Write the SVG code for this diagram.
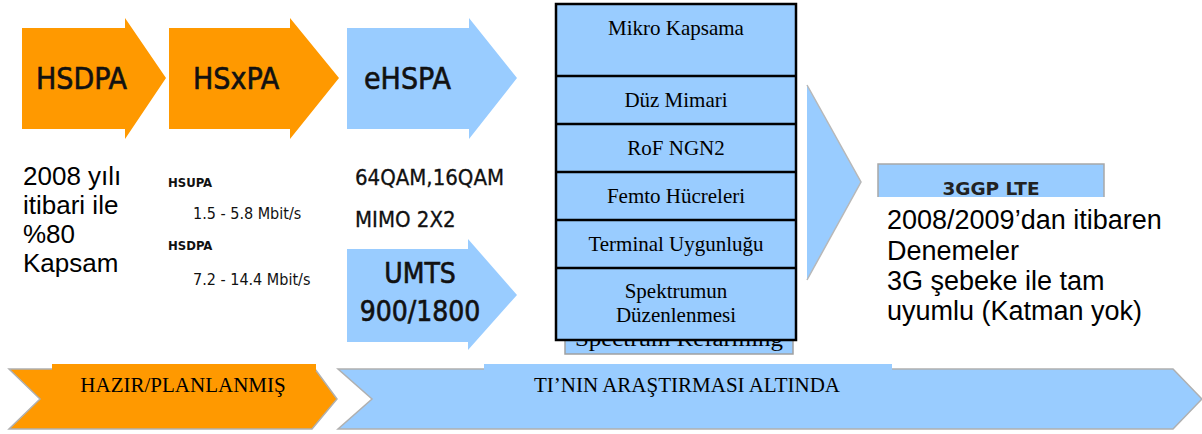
<svg xmlns="http://www.w3.org/2000/svg" width="1202" height="434" viewBox="0 0 1202 434">
<style>
.or{fill:#FF9900}
.bl{fill:#99CCFF}
.lbl{font-family:"DejaVu Sans Condensed","DejaVu Sans",sans-serif;fill:#111}
.big{stroke:#111;stroke-width:0.6}
.ar{font-family:"Liberation Sans",Arial,sans-serif;fill:#000}
.tm{font-family:"Liberation Serif","Times New Roman",serif;fill:#000}
.chev{stroke:#b0b0b0;stroke-width:1.5}
</style>
<defs>
<clipPath id="belowBox"><rect x="560" y="341" width="240" height="20"/></clipPath>
</defs>
<rect width="1202" height="434" fill="#fff"/>

<g id="hsdpa-arrow">
<polygon class="or" points="22,28 125,28 125,18 166,78 125,139 125,129 22,129"/>
<text class="lbl big" x="36" y="89" font-size="30">HSDPA</text>
</g>
<g id="hsxpa-arrow">
<polygon class="or" points="169,28 290,28 290,18 339,78 290,139 290,129 169,129"/>
<text class="lbl big" x="193" y="89" font-size="30">HSxPA</text>
</g>
<g id="ehspa-arrow">
<polygon class="bl" points="347,28 469,28 469,18 517,78 469,139 469,129 347,129"/>
<text class="lbl big" x="364" y="89" font-size="30">eHSPA</text>
</g>
<g id="umts-arrow">
<polygon class="bl" points="347,249 468,249 468,239 517,295 468,350 468,342 347,342"/>
<text class="lbl big" x="420" y="283" font-size="28" text-anchor="middle">UMTS</text>
<text class="lbl big" x="420" y="321" font-size="28" text-anchor="middle">900/1800</text>
</g>

<g id="coverage-text">
<text class="ar" font-size="26"><tspan x="23" y="185">2008 yılı</tspan><tspan x="23" y="214">itibari ile</tspan><tspan x="23" y="243">%80</tspan><tspan x="23" y="272">Kapsam</tspan></text>
</g>
<g id="hsxpa-rates">
<text class="lbl" x="168" y="187" font-size="13" font-weight="bold">HSUPA</text>
<text class="lbl" x="193" y="219" font-size="16">1.5 - 5.8 Mbit/s</text>
<text class="lbl" x="168" y="250" font-size="13" font-weight="bold">HSDPA</text>
<text class="lbl" x="193" y="285" font-size="16">7.2 - 14.4 Mbit/s</text>
</g>
<g id="ehspa-features">
<text class="lbl" x="355" y="185" font-size="22" stroke="#111" stroke-width="0.3">64QAM,16QAM</text>
<text class="lbl" x="355" y="227" font-size="22" stroke="#111" stroke-width="0.3">MIMO 2X2</text>
</g>

<g id="spectrum-refarming">
<rect x="565" y="290" width="228" height="64" class="bl" stroke="#a0a0a0" stroke-width="1.5"/>
<text class="tm" x="575" y="346" font-size="20" textLength="208" lengthAdjust="spacingAndGlyphs" clip-path="url(#belowBox)">Spectrum Refarming</text>
</g>

<g id="feature-stack">
<rect x="556" y="4" width="240" height="336" class="bl" stroke="#000" stroke-width="2.5"/>
<g stroke="#000" stroke-width="2.5">
<line x1="556" y1="76" x2="796" y2="76"/>
<line x1="556" y1="124" x2="796" y2="124"/>
<line x1="556" y1="172" x2="796" y2="172"/>
<line x1="556" y1="220" x2="796" y2="220"/>
<line x1="556" y1="268" x2="796" y2="268"/>
</g>
<g class="tm" font-size="21" text-anchor="middle">
<text x="676" y="35">Mikro Kapsama</text>
<text x="676" y="107">Düz Mimari</text>
<text x="676" y="155">RoF NGN2</text>
<text x="676" y="203">Femto Hücreleri</text>
<text x="676" y="251">Terminal Uygunluğu</text>
<text x="676" y="298">Spektrumun</text>
<text x="676" y="322">Düzenlenmesi</text>
</g>
</g>

<g id="connectors">
<g id="arrow-to-lte">
<polygon class="bl" points="807,85 861,182 807,280"/>
<polyline points="807,85 861,182 807,280" fill="none" stroke="#b8b8b8" stroke-width="1.5"/>
</g>
</g>

<g id="lte-box">
<rect x="878" y="164" width="226" height="40" class="bl" stroke="#a8a8a8" stroke-width="1.5"/>
<text x="991" y="195" font-family="DejaVu Sans, sans-serif" font-size="18.5" font-weight="bold" fill="#222" text-anchor="middle">3GGP LTE</text>
<rect x="874" y="197" width="236" height="11" fill="#fff"/>
</g>
<g id="lte-text">
<text class="ar" font-size="27"><tspan x="887" y="229">2008/2009’dan itibaren</tspan><tspan x="887" y="260">Denemeler</tspan><tspan x="887" y="290">3G şebeke ile tam</tspan><tspan x="887" y="320">uyumlu (Katman yok)</tspan></text>
</g>

<g id="ready-chevron">
<polygon class="or chev" points="9,369 315,369 337,399 312,429 9,429 40,399"/>
<rect x="52" y="364" width="264" height="7" class="or"/>
<text class="tm" x="183" y="392" font-size="21" text-anchor="middle">HAZIR/PLANLANMIŞ</text>
</g>
<g id="research-chevron">
<polygon class="bl chev" points="338,369 1173,369 1202,399 1173,429 338,429 372,399"/>
<rect x="484" y="364" width="408" height="7" class="bl"/>
<text class="tm" x="687" y="392" font-size="21" text-anchor="middle">TI’NIN ARAŞTIRMASI ALTINDA</text>
</g>
</svg>
